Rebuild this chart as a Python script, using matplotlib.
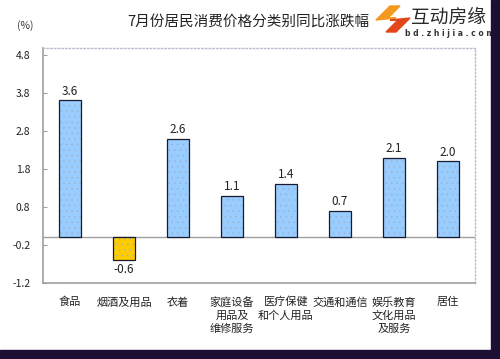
import matplotlib.pyplot as plt
import numpy as np
from matplotlib.patches import Rectangle, Polygon

plt.rcParams["font.family"] = ["Noto Sans CJK SC", "DejaVu Sans"]
plt.rcParams["hatch.linewidth"] = 0.3

categories = ["食品", "烟酒及用品", "衣着", "家庭设备\n用品及\n维修服务", "医疗保健\n和个人用品",
              "交通和通信", "娱乐教育\n文化用品\n及服务", "居住"]
values = [3.6, -0.6, 2.6, 1.1, 1.4, 0.7, 2.1, 2.0]
yticks = [-1.2, -0.2, 0.8, 1.8, 2.8, 3.8, 4.8]

BLUE = "#99CCFF"
GOLD = "#FFCC00"
AXIS = "#A0A0A0"

fig = plt.figure(figsize=(5.0, 3.59), dpi=100)
ax = fig.add_axes([43 / 500, 1 - 283 / 359, 432 / 500, 235 / 359])

x = np.arange(len(values))
colors = [BLUE if v >= 0 else GOLD for v in values]
bars = ax.bar(x, values, width=0.41, color=colors, edgecolor="#1A1A2E", linewidth=0.9,
              hatch="...", zorder=3)
for b in bars:
    b._hatch_color = (0.62, 0.68, 0.76, 1.0)
for xi, v in zip(x, values):
    off = 0.07 if v >= 0 else -0.07
    ax.text(xi, v + off, f"{v:.1f}", ha="center", va="bottom" if v >= 0 else "top",
            fontsize=8.5, color="#222222")

ax.axhline(0, color=AXIS, linewidth=1.0, zorder=2)
ax.set_xlim(-0.5, len(values) - 0.5)
ax.set_ylim(-1.2, 4.98)
ax.set_yticks(yticks)
ax.set_yticklabels([f"{t:.1f}" for t in yticks], fontsize=7.5, color="#222222")
ax.tick_params(axis="y", direction="in", length=3, color=AXIS, pad=9)
ax.set_xticks(x)
ax.set_xticklabels(categories, fontsize=8, color="#222222", linespacing=1.35, va="top")
ax.tick_params(axis="x", length=0, pad=10)
for side in ["left", "bottom"]:
    ax.spines[side].set_color(AXIS)
    ax.spines[side].set_linewidth(1.2)
for side in ["top", "right"]:
    ax.spines[side].set_color("#BBBBCC")
    ax.spines[side].set_linestyle(":")
    ax.spines[side].set_linewidth(1.0)

fig.text(248 / 500, 1 - 22 / 359, "7月份居民消费价格分类别同比涨跌幅", ha="center", va="center",
         fontsize=10.5, color="#222222")
fig.text(25 / 500, 1 - 26 / 359, "(%)", ha="center", va="center", fontsize=7.5, color="#333333")

# logo
logo = fig.add_axes([374 / 500, 1 - 40 / 359, 126 / 500, 40 / 359])
logo.set_xlim(0, 126)
logo.set_ylim(40, 0)
logo.axis("off")
logo.add_patch(Polygon([[2, 20], [16, 6], [26, 6], [14, 18], [22, 18]], closed=True, color="#F39A1E"))
logo.add_patch(Polygon([[36, 18], [22, 32], [12, 32], [24, 20], [16, 20]], closed=True, color="#E2461A"))
logo.text(37, 17, "互动房缘", fontsize=13.5, color="#2A2A2A", va="center")
logo.text(31, 33, "b d . z h i j i a . c o m", fontsize=5.5, color="#333333", va="center",
          family="DejaVu Sans", fontweight="bold")

# dark frame
fig.patches.append(Rectangle((491 / 500, 0), 9 / 500, 1, transform=fig.transFigure,
                             color="#1C0F33", zorder=10))
fig.patches.append(Rectangle((0, 0), 1, 9 / 359, transform=fig.transFigure,
                             color="#1C0F33", zorder=10))

fig.savefig("out.png", dpi=100)
